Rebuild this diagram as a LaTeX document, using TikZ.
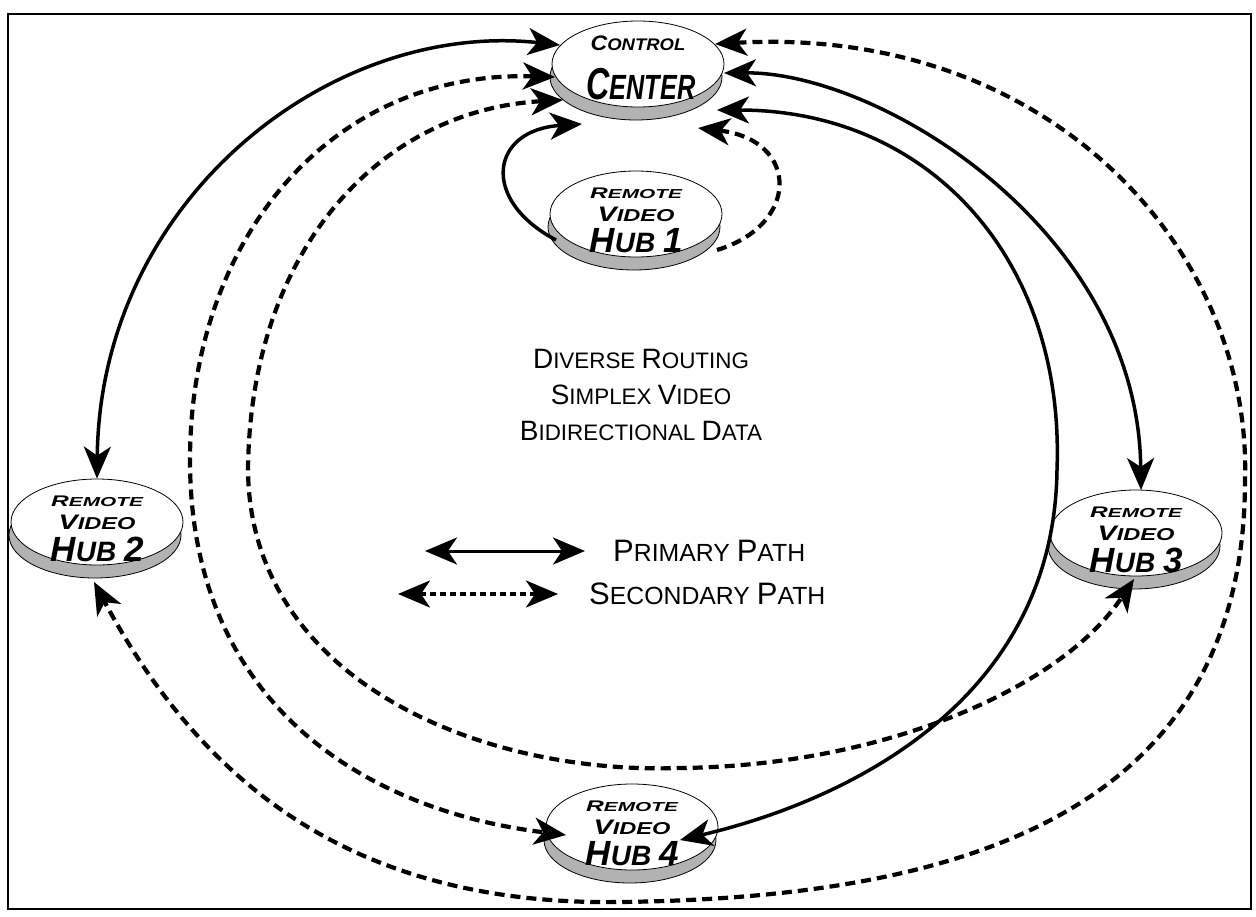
\documentclass[tikz,border=0pt]{standalone}
\usepackage{fontspec}
\setmainfont{Liberation Sans}
\usetikzlibrary{arrows.meta,shadows,shapes.geometric}

% font size shorthand (size = baseline skip)
\newcommand\fsz[1]{\fontsize{#1}{#1}\selectfont}

\begin{document}
\begin{tikzpicture}[x=1pt,y=-1pt,
  >={Stealth[length=32pt,width=27pt,inset=9pt]},
  disc/.style={ellipse, draw=black, line width=0.8pt, fill=white,
    minimum width=172pt, minimum height=86pt, inner sep=0pt,
    general shadow={shadow xshift=-2pt, shadow yshift=-13pt,
      fill=gray!60, draw=black, line width=0.8pt}},
  hubtxt/.style={inner sep=0pt, font=\bfseries\itshape},
  captxt/.style={inner sep=0pt, anchor=base},
  legtxt/.style={inner sep=0pt, anchor=west},
  primary/.style={line width=3.5pt},
  secondary/.style={line width=4.2pt, dash pattern=on 10pt off 6pt},
  legsecondary/.style={line width=3.2pt, dash pattern=on 6pt off 4pt},
]
\useasboundingbox (0,0) rectangle (1256,916);
\draw[line width=2pt] (8,14) rectangle (1251,909);

% sites
\node[disc] (cc) at (638,64) {};
\node[disc] (h1) at (636,214) {};
\node[disc] (h2) at (97,522) {};
\node[disc] (h3) at (1136,533) {};
\node[disc] (h4) at (632,827) {};

\node[hubtxt] (cc-a) at ([yshift=21pt]cc.center)
  {\scalebox{1.1}[1]{\fsz{21}C\fsz{16.8}ONTROL}};
\node[hubtxt] (cc-b) at ([xshift=3pt,yshift=-20pt]cc.center)
  {\scalebox{0.72}[1]{\fsz{44.7}C\fsz{35}ENTER}};

\newcommand\hublabel[2]{%
  \node[hubtxt] (#1-a) at ([yshift=21pt]#1.center)
    {\scalebox{1.6}[1]{\fsz{15.4}R\fsz{13}EMOTE}};
  \node[hubtxt] (#1-b) at (#1.center)
    {\scalebox{1.37}[1]{\fsz{21}V\fsz{17.2}IDEO}};
  \node[hubtxt] (#1-c) at ([yshift=-27pt]#1.center)
    {\fsz{35}H\fsz{28}UB \fsz{35}#2};}
\hublabel{h1}{1}
\hublabel{h2}{2}
\hublabel{h3}{3}
\hublabel{h4}{4}

% caption
\node[captxt] (t1) at (641,368) {\fsz{28}D\fsz{22.4}IVERSE \fsz{28}R\fsz{22.4}OUTING};
\node[captxt] (t2) at (641,404) {\fsz{28}S\fsz{22.4}IMPLEX \fsz{28}V\fsz{22.4}IDEO};
\node[captxt] (t3) at (641,440) {\fsz{28}B\fsz{22.4}IDIRECTIONAL \fsz{28}D\fsz{22.4}ATA};

% legend
\coordinate (lp1) at (425,551);
\coordinate (lp2) at (585,551);
\coordinate (ls1) at (398,594);
\coordinate (ls2) at (558,594);
\draw[line width=3pt,<->] (lp1) -- (lp2);
\draw[legsecondary,<->] (ls1) -- (ls2);
\node[legtxt] (lpt) at (613,551) {\fsz{31}P\fsz{24.8}RIMARY \fsz{31}P\fsz{24.8}ATH};
\node[legtxt] (lst) at (589,594) {\fsz{31}S\fsz{24.8}ECONDARY \fsz{31}P\fsz{24.8}ATH};

% primary paths
\draw[primary,<->] ([shift={(-78,-19)}]cc.center)
  .. controls (330,20) and (100,200) .. (h2.north);
\draw[primary,<->] ([shift={(86,9)}]cc.center)
  .. controls (880,72) and (1138,230) .. ([shift={(5,-43)}]h3.center);
\draw[primary,<->] ([shift={(79,46)}]cc.center)
  .. controls (930,110) and (1065,260) .. (1057,470)
  .. controls (1054,700) and (850,800) .. ([shift={(48,13)}]h4.center);
\draw[primary,->] ([shift={(-80,26)}]h1.center)
  .. controls (480,200) and (490,130) .. ([shift={(-56,60)}]cc.center);

% secondary paths
\draw[secondary,->] ([shift={(81,36)}]h1.center)
  .. controls (800,225) and (800,140) .. ([shift={(60,64)}]cc.center);
\draw[secondary,<->] ([shift={(-83,13)}]cc.center)
  .. controls (330,70) and (190,240) .. (190,460)
  .. controls (190,700) and (360,810) .. ([shift={(-66,8)}]h4.center);
\draw[secondary,<->] ([shift={(-75,36)}]cc.center)
  .. controls (380,110) and (250,250) .. (248,470)
  .. controls (250,680) and (480,775) .. (680,768)
  .. controls (880,766) and (1060,690) .. ([shift={(-2,46)}]h3.center);
\draw[secondary,<->] ([shift={(77,-20)}]cc.center)
  .. controls (1050,25) and (1252,250) .. (1245,480)
  .. controls (1245,820) and (950,898) .. (620,902)
  .. controls (350,906) and (200,780) .. ([shift={(-3,60)}]h2.center);
\end{tikzpicture}
\end{document}
